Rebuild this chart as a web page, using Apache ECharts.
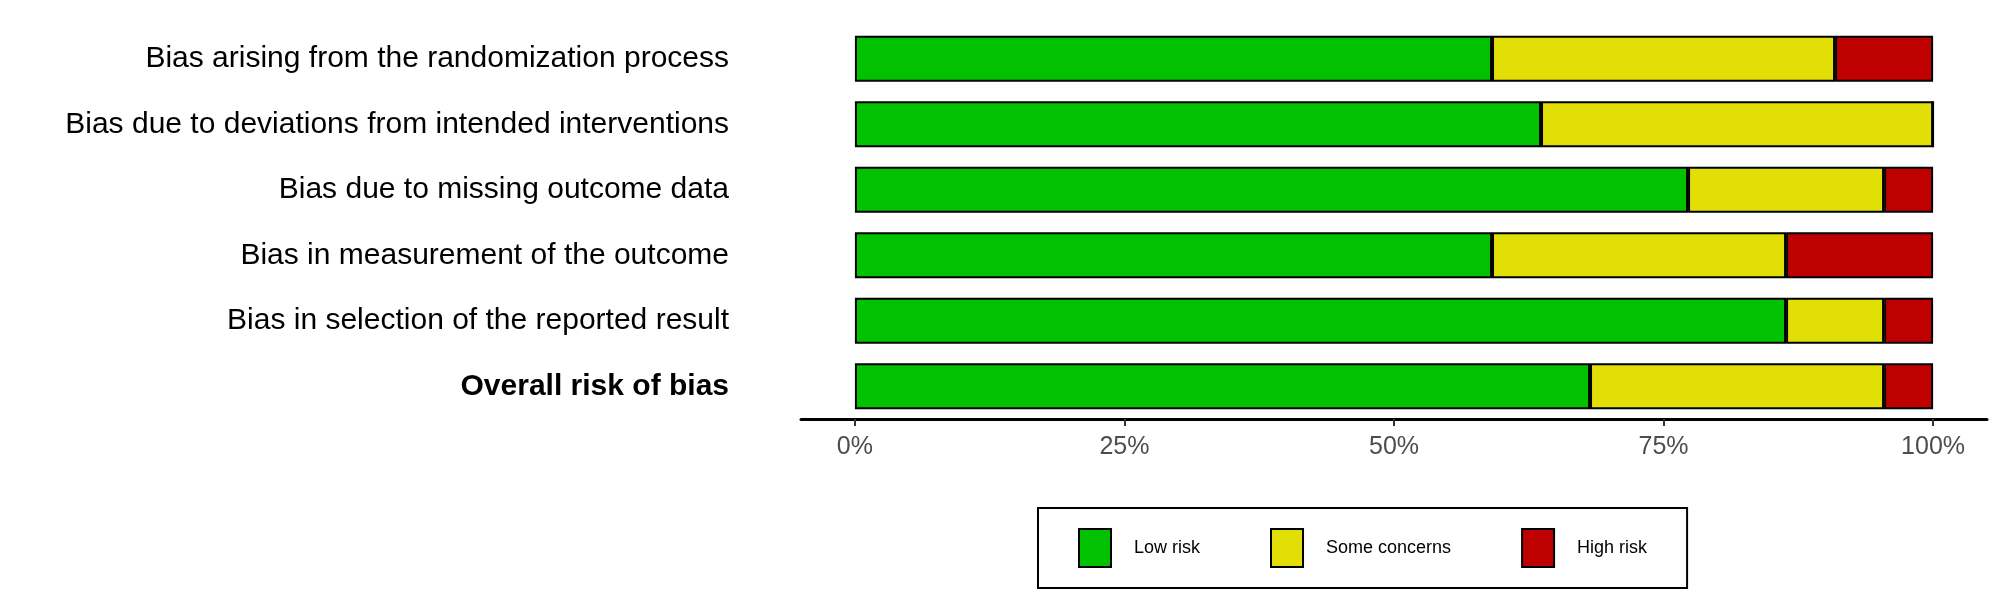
<!DOCTYPE html>
<html>
<head>
<meta charset="utf-8">
<script src="https://cdn.jsdelivr.net/npm/echarts@6/dist/echarts.min.js"></script>
<style>html,body{margin:0;padding:0;background:#fff}#chart{width:2008px;height:605px}</style>
</head>
<body>
<div id="chart"></div>
<script>
// domains of the risk-of-bias summary, top to bottom
var domains = [
    'Bias arising from the randomization process',
    'Bias due to deviations from intended interventions',
    'Bias due to missing outcome data',
    'Bias in measurement of the outcome',
    'Bias in selection of the reported result',
    'Overall risk of bias'
];
// share of studies per judgement (22 studies)
var lowRisk      = [13/22, 14/22, 17/22, 13/22, 19/22, 15/22];
var someConcerns = [7/22,  8/22,  4/22,  6/22,  2/22,  6/22];
var highRisk     = [2/22,  0,     1/22,  3/22,  1/22,  1/22];
var tickValues = [0, 0.25, 0.5, 0.75, 1];

var chart = echarts.init(document.getElementById('chart'));

function makeSeries(name, data, color) {
    return {
        name: name,
        type: 'bar',
        stack: 'rob',
        data: data,
        barWidth: 46,
        itemStyle: { color: color, borderColor: '#000', borderWidth: 2 },
        emphasis: { disabled: true }
    };
}

var option = {
    animation: false,
    grid: { left: 801, width: 1186, top: 26, height: 393 },
    xAxis: {
        type: 'value',
        min: -0.05,
        max: 1.05,
        axisLine: { show: true, lineStyle: { color: '#000', width: 3 } },
        axisTick: { show: true, customValues: tickValues, length: 7, lineStyle: { color: '#333', width: 2 } },
        axisLabel: {
            customValues: tickValues,
            formatter: function (v) { return Math.round(v * 100) + '%'; },
            fontFamily: 'Liberation Sans', fontSize: 25, color: '#4d4d4d', margin: 16
        },
        splitLine: { show: false }
    },
    yAxis: {
        type: 'category',
        inverse: true,
        data: domains,
        axisLine: { show: false },
        axisTick: { show: false },
        axisLabel: {
            fontFamily: 'Liberation Sans', fontSize: 30, color: '#000', margin: 72,
            formatter: function (v) { return v === 'Overall risk of bias' ? '{b|' + v + '}' : v; },
            rich: { b: { fontWeight: 'bold', fontSize: 30, fontFamily: 'Liberation Sans', color: '#000' } }
        }
    },
    legend: {
        left: 1038,
        top: 508,
        width: 711,
        height: 77,
        padding: [20, 40, 20, 40],
        borderColor: '#000',
        borderWidth: 2,
        itemWidth: 32,
        itemHeight: 38,
        itemGap: 70,
        selectedMode: false,
        icon: 'rect',
        itemStyle: { borderColor: '#000', borderWidth: 2 },
        textStyle: { fontFamily: 'Liberation Sans', fontSize: 18, color: '#000', padding: [0, 0, 0, 18] }
    },
    series: [
        makeSeries('Low risk', lowRisk, '#02c100'),
        makeSeries('Some concerns', someConcerns, '#e2df07'),
        makeSeries('High risk', highRisk, '#bf0000')
    ]
};
chart.setOption(option);
</script>
</body>
</html>
